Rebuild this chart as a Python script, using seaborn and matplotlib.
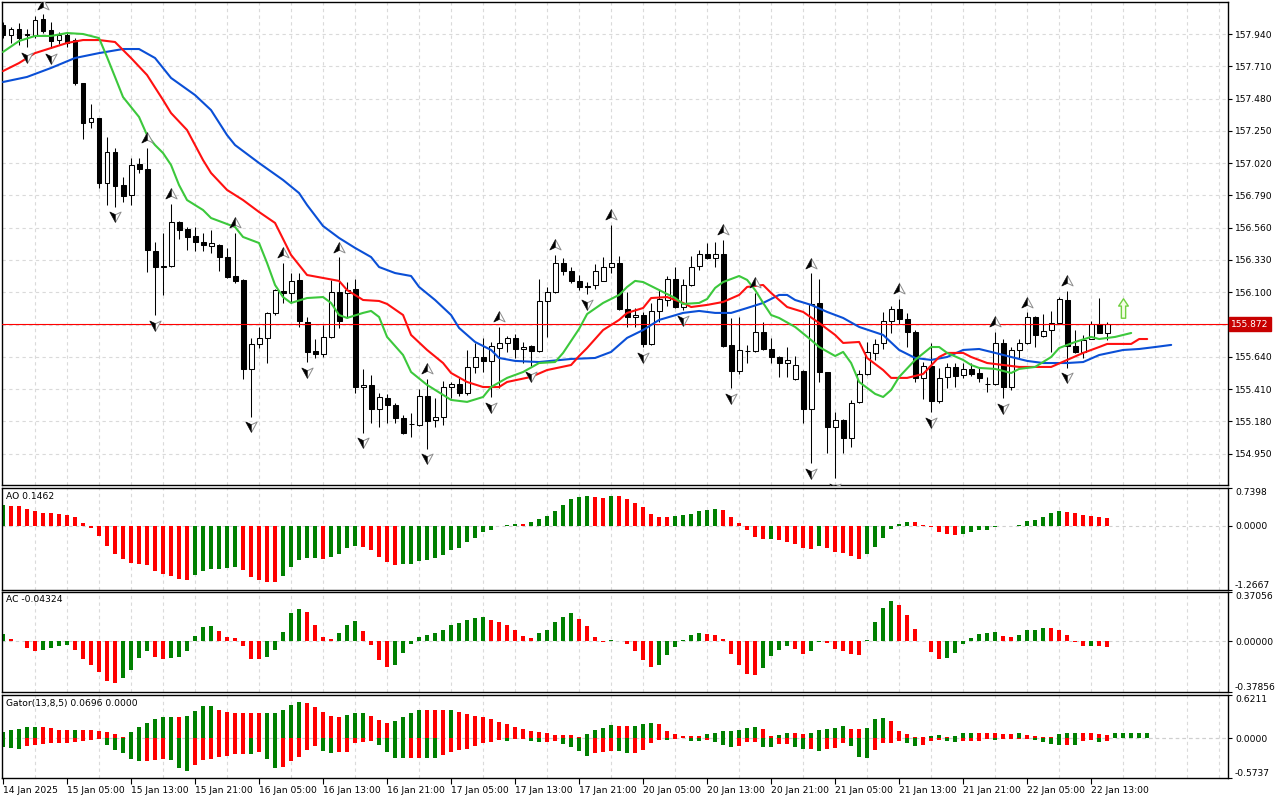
import numpy as np
import matplotlib
matplotlib.use('Agg')
import matplotlib.pyplot as plt
import seaborn as sns
from matplotlib.path import Path

sns.set_theme(style='white')
plt.rcParams['font.family'] = ['DejaVu Sans']

# ---- hourly USDJPY-style candles (14 Jan 21:00 .. 22 Jan 15:00) ----
open_ = [158.004, 157.933, 157.975, 157.940, 157.926, 158.047, 157.968, 157.897, 157.933, 157.897,
         157.591, 157.313, 157.341, 156.879, 157.099, 156.864, 156.793, 157.014, 156.978, 156.394,
         156.280, 156.287, 156.601, 156.551, 156.501, 156.458, 156.430, 156.437, 156.351, 156.216,
         156.188, 155.554, 155.732, 155.775, 155.953, 156.109, 156.095, 156.188, 155.888, 155.682,
         155.660, 155.782, 156.102, 156.095, 156.123, 155.425, 155.440, 155.269, 155.347, 155.297,
         155.205, 155.162, 155.155, 155.361, 155.190, 155.212, 155.425, 155.447, 155.383, 155.568,
         155.639, 155.611, 155.703, 155.739, 155.775, 155.696, 155.717, 155.682, 156.038, 156.102,
         156.309, 156.252, 156.181, 156.145, 156.152, 156.181, 156.280, 156.309, 155.981, 155.924,
         155.938, 155.732, 155.967, 156.045, 156.195, 155.995, 156.152, 156.287, 156.373, 156.344,
         156.373, 155.725, 155.539, 155.682, 155.682, 155.817, 155.696, 155.639, 155.596, 155.482,
         155.539, 155.269, 156.024, 155.532, 155.141, 155.190, 155.062, 155.319, 155.518, 155.668,
         155.739, 155.896, 155.981, 155.910, 155.817, 155.490, 155.575, 155.326, 155.497, 155.568,
         155.511, 155.554, 155.525, 155.447, 155.447, 155.739, 155.425, 155.689, 155.739, 155.924,
         155.789, 155.831, 155.881, 156.045, 155.717, 155.675, 155.767, 155.874, 155.810]
high = [158.025, 157.990, 158.018, 157.975, 158.068, 158.082, 158.025, 157.954, 157.947, 157.911,
        157.591, 157.441, 157.345, 157.206, 157.128, 156.921, 157.057, 157.057, 157.128, 156.458,
        156.522, 156.729, 156.608, 156.565, 156.565, 156.522, 156.544, 156.444, 156.416, 156.522,
        156.195, 155.775, 155.853, 155.960, 156.120, 156.309, 156.237, 156.237, 155.924, 155.767,
        155.867, 156.188, 156.351, 156.173, 156.195, 155.554, 155.511, 155.383, 155.376, 155.311,
        155.226, 155.240, 155.411, 155.482, 155.347, 155.468, 155.461, 155.490, 155.689, 155.739,
        155.775, 155.746, 155.853, 155.789, 155.803, 155.746, 155.722, 156.195, 156.138, 156.366,
        156.344, 156.280, 156.223, 156.173, 156.302, 156.351, 156.579, 156.358, 156.102, 155.988,
        155.960, 156.024, 156.116, 156.216, 156.280, 156.195, 156.358, 156.401, 156.451, 156.458,
        156.473, 155.917, 155.924, 155.725, 156.095, 155.888, 155.775, 155.645, 155.710, 155.646,
        155.545, 156.237, 156.195, 155.535, 155.247, 155.195, 155.333, 155.546, 155.746, 155.767,
        155.960, 156.002, 156.052, 155.953, 155.831, 155.603, 155.739, 155.561, 155.596, 155.596,
        155.596, 155.596, 155.568, 155.497, 155.817, 155.767, 155.710, 155.767, 155.958, 155.928,
        155.945, 155.967, 156.066, 156.109, 155.831, 155.796, 155.896, 156.059, 155.888]
low = [157.911, 157.876, 157.861, 157.847, 157.911, 157.947, 157.840, 157.869, 157.845, 157.577,
       157.192, 157.270, 156.843, 156.722, 156.708, 156.743, 156.722, 156.950, 156.245, 155.938,
       156.081, 156.280, 156.480, 156.401, 156.394, 156.394, 156.380, 156.252, 156.202, 156.166,
       155.482, 155.212, 155.703, 155.596, 155.938, 156.024, 156.024, 155.853, 155.603, 155.632,
       155.639, 155.775, 155.846, 155.917, 155.383, 155.098, 155.169, 155.141, 155.169, 155.169,
       155.090, 155.069, 155.150, 154.984, 155.141, 155.155, 155.347, 155.361, 155.369, 155.525,
       155.532, 155.354, 155.418, 155.675, 155.632, 155.596, 155.575, 155.675, 155.782, 156.095,
       156.223, 156.166, 156.116, 156.088, 156.123, 156.178, 156.237, 155.975, 155.853, 155.853,
       155.710, 155.725, 155.888, 156.002, 155.990, 155.974, 156.148, 156.259, 156.340, 156.280,
       155.712, 155.418, 155.518, 155.596, 155.678, 155.692, 155.596, 155.497, 155.497, 155.475,
       155.169, 154.884, 155.461, 154.955, 154.777, 154.955, 154.998, 155.311, 155.511, 155.618,
       155.696, 155.810, 155.874, 155.710, 155.461, 155.340, 155.247, 155.311, 155.418, 155.425,
       155.490, 155.504, 155.461, 155.390, 155.440, 155.347, 155.404, 155.632, 155.735, 155.710,
       155.782, 155.675, 155.878, 155.561, 155.668, 155.632, 155.764, 155.807, 155.760]
close = [157.933, 157.975, 157.911, 157.935, 158.040, 157.961, 157.890, 157.933, 157.876, 157.591,
         157.306, 157.341, 156.879, 157.099, 156.857, 156.786, 157.007, 156.978, 156.401, 156.280,
         156.287, 156.601, 156.544, 156.494, 156.458, 156.437, 156.451, 156.351, 156.209, 156.181,
         155.554, 155.732, 155.775, 155.953, 156.116, 156.095, 156.181, 155.896, 155.675, 155.660,
         155.782, 156.102, 155.896, 156.116, 155.425, 155.440, 155.269, 155.354, 155.297, 155.205,
         155.098, 155.165, 155.361, 155.183, 155.212, 155.425, 155.447, 155.383, 155.568, 155.639,
         155.611, 155.717, 155.739, 155.775, 155.696, 155.710, 155.682, 156.038, 156.102, 156.309,
         156.252, 156.181, 156.138, 156.140, 156.252, 156.280, 156.309, 155.981, 155.924, 155.938,
         155.732, 155.967, 156.052, 156.195, 155.995, 156.152, 156.280, 156.373, 156.344, 156.373,
         155.717, 155.539, 155.689, 155.685, 155.817, 155.696, 155.639, 155.596, 155.618, 155.582,
         155.269, 156.017, 155.532, 155.141, 155.190, 155.062, 155.311, 155.518, 155.675, 155.732,
         155.896, 155.981, 155.910, 155.817, 155.490, 155.575, 155.326, 155.490, 155.568, 155.504,
         155.554, 155.518, 155.490, 155.450, 155.739, 155.425, 155.689, 155.739, 155.924, 155.796,
         155.824, 155.881, 156.052, 155.717, 155.675, 155.760, 155.874, 155.810, 155.872]

# ---- Alligator lines (sampled off the chart, shifted forward) ----
jaw_bar = [0, 3, 6, 9, 12, 15, 17, 19, 21, 24, 26, 28, 29, 32, 35, 37, 38, 40, 42, 44,
           46, 47, 49, 51, 52, 54, 56, 57, 59, 61, 62, 64, 67, 71, 74, 76, 78, 80, 82, 85,
           87, 89, 91, 93, 95, 97, 98, 99, 101, 103, 105, 107, 110, 112, 114, 116, 118, 120, 122, 124,
           126, 128, 130, 133, 135, 137, 140, 142, 144, 146]
jaw_price = [157.598, 157.634, 157.698, 157.769, 157.804, 157.833, 157.833, 157.769, 157.627, 157.505,
             157.398, 157.220, 157.149, 157.021, 156.900, 156.807, 156.722, 156.572, 156.487, 156.416,
             156.351, 156.280, 156.237, 156.216, 156.138, 156.045, 155.938, 155.846, 155.746, 155.689,
             155.632, 155.611, 155.603, 155.625, 155.632, 155.675, 155.775, 155.831, 155.903, 155.953,
             155.967, 155.953, 155.953, 155.988, 156.024, 156.081, 156.081, 156.045, 156.010, 155.960,
             155.917, 155.853, 155.796, 155.689, 155.632, 155.618, 155.639, 155.689, 155.696, 155.668,
             155.639, 155.611, 155.596, 155.596, 155.603, 155.653, 155.689, 155.696, 155.710, 155.725]
teeth_bar = [0, 2, 4, 6, 8, 10, 12, 14, 16, 18, 20, 21, 23, 25, 26, 28, 30, 32, 34, 36,
             38, 40, 42, 43, 45, 47, 48, 50, 51, 53, 55, 56, 58, 60, 62, 63, 66, 68, 71, 72,
             73, 75, 77, 78, 80, 81, 83, 85, 86, 88, 90, 92, 93, 95, 96, 98, 100, 102, 104, 105,
             107, 108, 110, 111, 113, 115, 117, 118, 120, 121, 123, 125, 127, 129, 131, 133, 135, 137, 138, 141,
             142, 143]
teeth_price = [157.676, 157.733, 157.804, 157.840, 157.876, 157.897, 157.897, 157.883, 157.769, 157.648,
               157.470, 157.377, 157.256, 157.042, 156.950, 156.829, 156.757, 156.672, 156.594, 156.366,
               156.223, 156.202, 156.181, 156.116, 156.045, 156.038, 156.017, 155.938, 155.796, 155.689,
               155.596, 155.525, 155.461, 155.425, 155.425, 155.461, 155.497, 155.546, 155.582, 155.646,
               155.703, 155.831, 155.903, 155.953, 155.988, 156.059, 156.066, 156.024, 155.995, 156.010,
               156.031, 156.081, 156.138, 156.152, 156.095, 155.995, 155.960, 155.881, 155.796, 155.739,
               155.746, 155.632, 155.546, 155.490, 155.490, 155.518, 155.639, 155.668, 155.668, 155.639,
               155.596, 155.582, 155.568, 155.568, 155.568, 155.618, 155.668, 155.710, 155.732, 155.732,
               155.767, 155.767]
lips_bar = [0, 2, 4, 6, 8, 10, 12, 13, 14, 15, 17, 18, 19, 20, 21, 22, 23, 25, 26, 29,
            30, 32, 33, 34, 35, 36, 38, 40, 41, 42, 43, 45, 46, 47, 48, 50, 51, 53, 55, 56,
            58, 60, 61, 63, 65, 67, 69, 70, 72, 73, 75, 77, 78, 79, 80, 82, 84, 85, 87, 88,
            89, 90, 92, 93, 94, 95, 96, 97, 99, 101, 102, 104, 105, 106, 107, 109, 110, 111, 112, 114,
            116, 117, 118, 120, 121, 122, 124, 126, 127, 129, 131, 132, 134, 136, 137, 139, 141]
lips_price = [157.812, 157.890, 157.926, 157.926, 157.947, 157.940, 157.911, 157.776, 157.634, 157.491,
              157.349, 157.220, 157.149, 157.092, 157.007, 156.864, 156.757, 156.686, 156.629, 156.565,
              156.494, 156.451, 156.309, 156.152, 156.066, 156.024, 156.059, 156.066, 156.024, 155.938,
              155.917, 155.953, 155.967, 155.924, 155.782, 155.653, 155.532, 155.440, 155.369, 155.333,
              155.319, 155.354, 155.425, 155.490, 155.532, 155.596, 155.603, 155.668, 155.839, 155.945,
              156.024, 156.081, 156.138, 156.181, 156.173, 156.116, 156.059, 156.017, 156.024, 156.052,
              156.131, 156.173, 156.216, 156.188, 156.116, 156.024, 155.938, 155.917, 155.853, 155.760,
              155.710, 155.646, 155.675, 155.596, 155.461, 155.376, 155.354, 155.404, 155.497, 155.618,
              155.710, 155.710, 155.668, 155.618, 155.582, 155.561, 155.554, 155.525, 155.554, 155.568,
              155.639, 155.703, 155.746, 155.782, 155.767, 155.782, 155.810]

# ---- Bill Williams fractals (bar indices) ----
up_fractals = [5, 18, 21, 29, 35, 42, 53, 62, 69, 76, 90, 94, 101, 112, 124, 128, 133]
down_fractals = [3, 6, 14, 19, 31, 38, 45, 53, 61, 66, 73, 80, 85, 91, 101, 104, 116, 125, 133]

# buy-signal arrow drawn on the chart
signal_bar = 140
signal_price = 155.988

# ---- oscillators ----
ao = [0.412, 0.385, 0.383, 0.319, 0.279, 0.246, 0.243, 0.219, 0.199, 0.179,
      0.046, -0.047, -0.213, -0.399, -0.551, -0.651, -0.731, -0.751, -0.777, -0.897,
      -0.950, -0.997, -1.050, -1.070, -0.977, -0.897, -0.850, -0.844, -0.831, -0.824,
      -0.864, -1.010, -1.076, -1.110, -1.116, -0.997, -0.811, -0.684, -0.638, -0.631,
      -0.651, -0.611, -0.551, -0.445, -0.399, -0.412, -0.485, -0.611, -0.718, -0.771,
      -0.751, -0.749, -0.698, -0.671, -0.645, -0.578, -0.485, -0.432, -0.332, -0.239,
      -0.133, -0.086, -0.013, 0.013, 0.026, 0.022, 0.066, 0.133, 0.186, 0.286,
      0.399, 0.518, 0.558, 0.578, 0.571, 0.551, 0.578, 0.575, 0.530, 0.452,
      0.359, 0.233, 0.179, 0.178, 0.185, 0.200, 0.233, 0.279, 0.312, 0.319,
      0.299, 0.179, 0.060, -0.093, -0.219, -0.272, -0.270, -0.292, -0.319, -0.352,
      -0.439, -0.452, -0.392, -0.432, -0.512, -0.532, -0.591, -0.651, -0.551, -0.419,
      -0.239, -0.073, 0.040, 0.080, 0.078, 0.013, -0.033, -0.133, -0.173, -0.193,
      -0.173, -0.133, -0.093, -0.080, -0.033, -0.013, -0.007, 0.020, 0.100, 0.120,
      0.179, 0.239, 0.279, 0.259, 0.239, 0.199, 0.198, 0.179, 0.1462]
ac = [0.059, 0.022, 0.002, -0.047, -0.072, -0.064, -0.047, -0.035, -0.027, -0.064,
      -0.129, -0.178, -0.232, -0.294, -0.309, -0.270, -0.213, -0.124, -0.072, -0.114,
      -0.129, -0.121, -0.116, -0.072, 0.044, 0.106, 0.114, 0.077, 0.037, 0.025,
      -0.035, -0.129, -0.130, -0.116, -0.062, 0.069, 0.213, 0.245, 0.220, 0.121,
      0.032, 0.022, 0.062, 0.126, 0.151, 0.077, -0.030, -0.141, -0.190, -0.178,
      -0.084, -0.017, 0.037, 0.052, 0.062, 0.089, 0.126, 0.136, 0.161, 0.176,
      0.180, 0.158, 0.143, 0.126, 0.087, 0.044, 0.027, 0.062, 0.084, 0.146,
      0.185, 0.210, 0.166, 0.114, 0.037, -0.002, 0.012, 0.007,
      -0.017, -0.072, -0.138, -0.190, -0.176, -0.101, -0.042, 0.012, 0.052, 0.067,
      0.057, 0.052, 0.015, -0.096, -0.178, -0.245, -0.252, -0.198, -0.109, -0.064,
      -0.035, -0.057, -0.091, -0.072, -0.002, -0.012, -0.057, -0.072, -0.096, -0.101,
      0.010, 0.143, 0.250, 0.304, 0.274, 0.200, 0.096, 0.001, -0.079, -0.131,
      -0.124, -0.089, -0.017, 0.027, 0.057, 0.062, 0.069, 0.044, 0.032, 0.045,
      0.087, 0.089, 0.101, 0.100, 0.087, 0.052, -0.001, -0.035, -0.034, -0.036, -0.04324]
gator_up = [0.091, 0.115, 0.129, 0.158, 0.160, 0.157, 0.144, 0.124, 0.115, 0.117,
            0.115, 0.113, 0.096, 0.086, 0.057, 0.019, 0.086, 0.158, 0.215, 0.273,
            0.301, 0.311, 0.301, 0.321, 0.397, 0.459, 0.461, 0.407, 0.378, 0.368,
            0.366, 0.359, 0.357, 0.360, 0.362, 0.411, 0.483, 0.522, 0.502, 0.445,
            0.378, 0.321, 0.311, 0.340, 0.359, 0.368, 0.321, 0.263, 0.225, 0.244,
            0.311, 0.359, 0.407, 0.405, 0.403, 0.401, 0.405, 0.383, 0.349, 0.325,
            0.301, 0.282, 0.239, 0.206, 0.167, 0.129, 0.110, 0.091, 0.077, 0.048,
            0.046, 0.045, 0.019, 0.057, 0.115, 0.153, 0.187, 0.177, 0.176, 0.178,
            0.201, 0.225, 0.206, 0.100, 0.057, 0.038, 0.037, 0.036, 0.057, 0.081,
            0.096, 0.100, 0.115, 0.153, 0.155, 0.129, 0.038, 0.048, 0.081, 0.067,
            0.066, 0.081, 0.115, 0.129, 0.144, 0.177, 0.129, 0.128, 0.153, 0.282,
            0.287, 0.244, 0.100, 0.057, 0.019, 0.010, 0.038, 0.043, 0.010, 0.024,
            0.072, 0.081, 0.080, 0.079, 0.067, 0.057, 0.056, 0.067, 0.048, 0.033,
            0.019, 0.014, 0.062, 0.067, 0.081, 0.080, 0.067, 0.057, 0.048, 0.067,
            0.068, 0.069, 0.0695, 0.0696]
gator_down = [-0.124, -0.144, -0.158, -0.120, -0.096, -0.086, -0.072, -0.071, -0.067, -0.053,
              -0.038, -0.024, -0.010, -0.096, -0.167, -0.220, -0.301, -0.325, -0.323, -0.321,
              -0.301, -0.311, -0.431, -0.469, -0.388, -0.316, -0.301, -0.268, -0.254, -0.225,
              -0.223, -0.234, -0.206, -0.301, -0.431, -0.421, -0.335, -0.273, -0.172, -0.120,
              -0.187, -0.220, -0.206, -0.205, -0.072, -0.053, -0.038, -0.100, -0.206, -0.287,
              -0.288, -0.286, -0.285, -0.287, -0.290, -0.244, -0.196, -0.172, -0.158, -0.120,
              -0.072, -0.062, -0.029, -0.038, -0.014, -0.013, -0.038, -0.053, -0.052, -0.038,
              -0.086, -0.124, -0.191, -0.254, -0.215, -0.196, -0.187, -0.190, -0.215, -0.214,
              -0.167, -0.077, -0.024, -0.026, -0.014, -0.005, -0.038, -0.040, -0.024, -0.053,
              -0.096, -0.124, -0.120, -0.053, -0.050, -0.124, -0.134, -0.086, -0.081, -0.134,
              -0.158, -0.156, -0.182, -0.158, -0.148, -0.072, -0.120, -0.268, -0.287, -0.167,
              -0.072, -0.070, -0.038, -0.072, -0.110, -0.096, -0.038, -0.024, -0.038, -0.053,
              -0.038, -0.037, -0.036, -0.014, -0.029, -0.014, -0.013, -0.010, -0.009, -0.024,
              -0.053, -0.086, -0.096, -0.095, -0.096, -0.048, -0.024, -0.062, -0.048, -0.005,
              -0.003, -0.002]

price_ticks = [157.940, 157.710, 157.480, 157.250, 157.020, 156.790, 156.560, 156.330,
               156.100, 155.870, 155.640, 155.410, 155.180, 154.950]
time_labels = ['14 Jan 2025', '15 Jan 05:00', '15 Jan 13:00', '15 Jan 21:00', '16 Jan 05:00',
               '16 Jan 13:00', '16 Jan 21:00', '17 Jan 05:00', '17 Jan 13:00', '17 Jan 21:00',
               '20 Jan 05:00', '20 Jan 13:00', '20 Jan 21:00', '21 Jan 05:00', '21 Jan 13:00',
               '21 Jan 21:00', '22 Jan 05:00', '22 Jan 13:00']

# ---- styling ----
GREEN = '#008000'
RED = '#ff0000'
GRID = '#dadada'
FS = 6.6
X_LO, X_HI = -0.125, 153.1
FRACTAL_GAP = 0.068


def arrow_path(pts):
    codes = [Path.MOVETO] + [Path.LINETO] * (len(pts) - 2) + [Path.CLOSEPOLY]
    return Path(pts, codes)


# fractal glyphs: full arrowhead plus its dark left half
up_full = arrow_path([(0, 1), (0.95, -0.75), (0, -0.3), (-0.95, -0.75), (0, 1)])
up_half = arrow_path([(0, 1), (0, -0.3), (-0.95, -0.75), (0, 1)])
dn_full = arrow_path([(0, -1), (0.95, 0.75), (0, 0.3), (-0.95, 0.75), (0, -1)])
dn_half = arrow_path([(0, -1), (0, 0.3), (-0.95, 0.75), (0, -1)])
block_arrow = arrow_path([(0, 1), (0.5, 0.25), (0.22, 0.25), (0.22, -1), (-0.22, -1),
                          (-0.22, 0.25), (-0.5, 0.25), (0, 1)])

fig = plt.figure(figsize=(12.8, 8), dpi=100)
left, width = 2 / 1280, 1226 / 1280
ax = fig.add_axes([left, 1 - 485 / 800, width, 483 / 800])
ax_ao = fig.add_axes([left, 1 - 590 / 800, width, 102 / 800])
ax_ac = fig.add_axes([left, 1 - 692 / 800, width, 100 / 800])
ax_gt = fig.add_axes([left, 1 - 778 / 800, width, 83 / 800])


def style_panel(a):
    a.set_facecolor('white')
    a.set_xlim(X_LO, X_HI)
    a.set_axisbelow(True)
    for s in a.spines.values():
        s.set_color('black')
        s.set_linewidth(1.0)
    a.yaxis.tick_right()
    a.tick_params(axis='y', direction='out', length=3, width=0.8, labelsize=FS,
                  pad=2, colors='black', left=False, right=True)
    a.set_xticks(np.arange(4, 153, 4), minor=True)
    a.tick_params(axis='x', which='minor', length=0)
    a.grid(which='minor', axis='x', color=GRID, linestyle=(0, (3, 3)), linewidth=0.8)
    a.set_xticks([])


def draw_hist(a, vals, use_abs=False):
    xs = np.arange(len(vals))
    cols = []
    for k, v in enumerate(vals):
        if k == 0:
            cols.append(GREEN)
            continue
        prev = vals[k - 1]
        rising = abs(v) > abs(prev) if use_abs else v > prev
        cols.append(GREEN if rising else RED)
    a.bar(xs, vals, width=0.5, color=cols, linewidth=0, zorder=2)
    a.axhline(0, color='#cfcfcf', linestyle=(0, (3, 3)), linewidth=0.8, zorder=1)


def panel_ticks(a, lo, hi, labels):
    a.set_ylim(lo, hi)
    a.set_yticks([lo, 0, hi])
    a.set_yticklabels(labels)
    tl = a.get_yticklabels()
    tl[0].set_va('bottom')
    tl[2].set_va('top')


for a in (ax, ax_ao, ax_ac, ax_gt):
    style_panel(a)

# ---- main price panel ----
o = np.array(open_)
h = np.array(high)
l = np.array(low)
c = np.array(close)
xs = np.arange(len(c))
bull = c >= o

ax.vlines(xs, l, h, color='black', linewidth=0.75, zorder=2)
ax.bar(xs, np.maximum(np.abs(c - o), 0.002), bottom=np.minimum(o, c), width=0.62,
       color=np.where(bull, 'white', 'black'), edgecolor='black', linewidth=0.75, zorder=3)

sns.lineplot(x=jaw_bar, y=jaw_price, ax=ax, color='#0a4fd6', linewidth=1.5,
             estimator=None, sort=False, legend=False, zorder=4)
sns.lineplot(x=teeth_bar, y=teeth_price, ax=ax, color='#ff1010', linewidth=1.5,
             estimator=None, sort=False, legend=False, zorder=4)
sns.lineplot(x=lips_bar, y=lips_price, ax=ax, color='#3cc83c', linewidth=1.5,
             estimator=None, sort=False, legend=False, zorder=4)

for idx, base, sign, full, half in ((up_fractals, h, 1, up_full, up_half),
                                    (down_fractals, l, -1, dn_full, dn_half)):
    ys = base[idx] + sign * FRACTAL_GAP
    ax.plot(idx, ys, marker=full, linestyle='none', markersize=8.5,
            markerfacecolor='white', markeredgecolor='#8c8c8c', markeredgewidth=0.7, zorder=5)
    ax.plot(idx, ys, marker=half, linestyle='none', markersize=8.5,
            markerfacecolor='black', markeredgecolor='black', markeredgewidth=0.3, zorder=6)

ax.plot([signal_bar], [signal_price], marker=block_arrow, linestyle='none',
        markersize=14, markerfacecolor='#f4fde4', markeredgecolor='#70d040',
        markeredgewidth=1.0, zorder=5)

last_close = close[-1]
ax.axhline(last_close, color=RED, linewidth=0.8, zorder=3.5)
ax.text(1.0028, last_close, f'{last_close:.3f}', transform=ax.get_yaxis_transform(),
        ha='left', va='center', color='white', fontsize=FS, clip_on=False,
        bbox=dict(boxstyle='square,pad=0.28', facecolor='#c80000', edgecolor='#c80000'))

ax.set_ylim(154.727, 158.168)
ax.set_yticks(price_ticks)
ax.set_yticklabels(['' if abs(p - 155.870) < 1e-6 else f'{p:.3f}' for p in price_ticks])
ax.grid(which='major', axis='y', color=GRID, linestyle=(0, (3, 3)), linewidth=0.8)
ax.set_xlabel('')
ax.set_ylabel('')

# ---- AO ----
draw_hist(ax_ao, ao)
panel_ticks(ax_ao, -1.2667, 0.7398, ['-1.2667', '0.0000', '0.7398'])
ax_ao.text(0.003, 0.965, f'AO {ao[-1]:.4f}', transform=ax_ao.transAxes,
           ha='left', va='top', fontsize=FS, color='black')

# ---- AC ----
draw_hist(ax_ac, ac)
panel_ticks(ax_ac, -0.37856, 0.37056, ['-0.37856', '0.00000', '0.37056'])
ax_ac.text(0.003, 0.965, f'AC {ac[-1]:.5f}', transform=ax_ac.transAxes,
           ha='left', va='top', fontsize=FS, color='black')

# ---- Gator ----
draw_hist(ax_gt, gator_up, use_abs=True)
draw_hist(ax_gt, gator_down, use_abs=True)
panel_ticks(ax_gt, -0.5737, 0.6211, ['-0.5737', '0.0000', '0.6211'])
ax_gt.text(0.003, 0.955, f'Gator(13,8,5) {gator_up[-1]:.4f} 0.0000', transform=ax_gt.transAxes,
           ha='left', va='top', fontsize=FS, color='black')

ax_gt.set_xticks(np.arange(0, len(c), 8))
ax_gt.set_xticklabels(time_labels, ha='left', fontsize=FS)
ax_gt.tick_params(axis='x', which='major', direction='out', length=4, width=0.8,
                  pad=2, colors='black', bottom=True)
ax_gt.set_xlim(X_LO, X_HI)

fig.savefig('out.png', dpi=100)
